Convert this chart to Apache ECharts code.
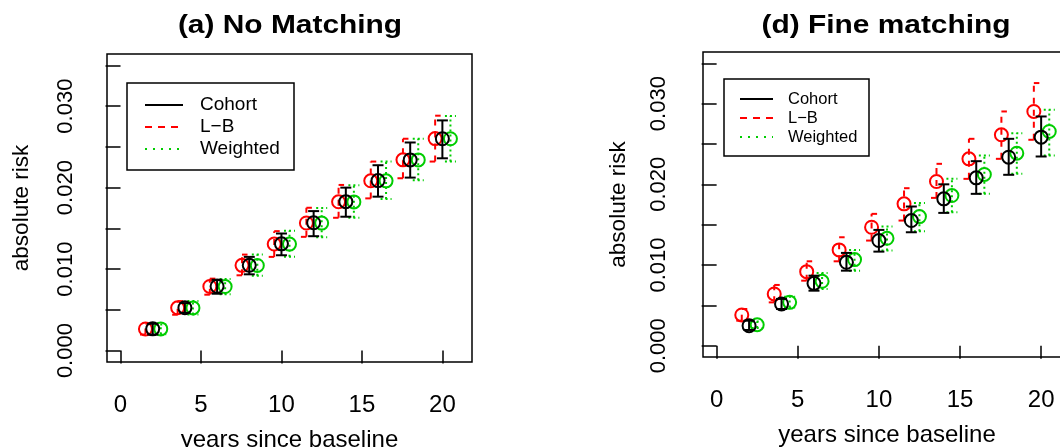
<!DOCTYPE html>
<html><head><meta charset="utf-8">
<script src="https://cdn.jsdelivr.net/npm/echarts@6/dist/echarts.min.js"></script>
<style>html,body{margin:0;padding:0;background:#fff}#c{width:1060px;height:447px}</style>
</head><body><div id="c"></div>
<script>
// ---------- data ----------
const years = [2, 4, 6, 8, 10, 12, 14, 16, 18, 20];
const xTicks = [0, 5, 10, 15, 20];
const yTicks = [0, 0.005, 0.01, 0.015, 0.02, 0.025, 0.03, 0.035];
const yTickLabels = [0, 0.01, 0.02, 0.03];
const legendNames = ['Cohort', 'L\u2212B', 'Weighted'];
const titles = ['(a) No Matching', '(d) Fine matching'];

// panel (a) No Matching
const aCohort   = [0.00267, 0.00526, 0.00789, 0.01047, 0.0131, 0.01569, 0.01828, 0.02086, 0.0234, 0.026];
const aCohortLo = [0.00197, 0.00464, 0.00698, 0.00936, 0.0117, 0.01404, 0.01643, 0.01889, 0.02123, 0.0236];
const aCohortHi = [0.00329, 0.00583, 0.0087, 0.0115, 0.01437, 0.01712, 0.0200, 0.02275, 0.02554, 0.02825];
const aLB       = [0.00265, 0.00525, 0.00787, 0.01046, 0.01308, 0.01566, 0.01826, 0.02084, 0.02341, 0.02602];
const aLBLo     = [0.00197, 0.0044, 0.00686, 0.00924, 0.0115, 0.01396, 0.0163, 0.01868, 0.02115, 0.0232];
const aLBHi     = [0.0033, 0.00607, 0.00883, 0.01178, 0.01466, 0.01753, 0.02033, 0.0232, 0.026, 0.02883];
const aW        = [0.00266, 0.00524, 0.00786, 0.01045, 0.01307, 0.01565, 0.01825, 0.02083, 0.0234, 0.026];
const aWLo      = [0.002, 0.00442, 0.0069, 0.0092, 0.01152, 0.0139, 0.0163, 0.0186, 0.0209, 0.0232];
const aWHi      = [0.0032, 0.0061, 0.0088, 0.0118, 0.0147, 0.0175, 0.0203, 0.0232, 0.026, 0.0288];

// panel (d) Fine matching
const dCohort   = [0.00248, 0.00517, 0.00773, 0.01034, 0.01303, 0.01551, 0.0182, 0.0208, 0.02336, 0.02585];
const dCohortLo = [0.00195, 0.00455, 0.00682, 0.0093, 0.01166, 0.01406, 0.01646, 0.01882, 0.02118, 0.02345];
const dCohortHi = [0.0031, 0.0058, 0.00868, 0.0115, 0.01435, 0.01725, 0.02, 0.02287, 0.02564, 0.02841];
const dLB       = [0.00381, 0.00641, 0.00918, 0.01187, 0.01468, 0.01758, 0.02035, 0.02316, 0.02614, 0.02903];
const dLBLo     = [0.0031, 0.00537, 0.00806, 0.01046, 0.01303, 0.01551, 0.01832, 0.02068, 0.02316, 0.02552];
const dLBHi     = [0.00455, 0.00753, 0.01046, 0.01344, 0.01634, 0.01952, 0.02254, 0.02564, 0.02903, 0.03255];
const dW        = [0.0026, 0.00537, 0.00798, 0.01067, 0.01331, 0.016, 0.01861, 0.02122, 0.02386, 0.02655];
const dWLo      = [0.0022, 0.00475, 0.00703, 0.0093, 0.01179, 0.01418, 0.01654, 0.01882, 0.0213, 0.02357];
const dWHi      = [0.003, 0.00608, 0.009, 0.01187, 0.01476, 0.0177, 0.02068, 0.02357, 0.02634, 0.02924];

// horizontal dodge of the three estimates around each year
const dodgeLB = -0.45, dodgeW = 0.5;

// ---------- styling ----------
const FONT = 'Liberation Sans, Arial, Helvetica, sans-serif';
const BLACK = '#000000', RED = '#ff0000', GREEN = '#00cd00';

function build(xs, dodge, c, lo, hi) {
  return xs.map((t, i) => [t + dodge, c[i], lo[i], hi[i]]);
}

function makeRender(color, dash, capMode) {
  return function (params, api) {
    const x = api.value(0), c = api.value(1), lo = api.value(2), hi = api.value(3);
    const pc = api.coord([x, c]), pl = api.coord([x, lo]), ph = api.coord([x, hi]);
    const lw = 2, cw = 5.5;
    const st = { stroke: color, lineWidth: lw, lineDash: dash, fill: 'rgba(0,0,0,0)' };
    const solid = { stroke: color, lineWidth: lw, fill: 'rgba(0,0,0,0)' };
    const ch = [{ type: 'line', shape: { x1: pl[0], y1: pl[1], x2: ph[0], y2: ph[1] }, style: st }];
    if (capMode === 'full') {
      ch.push({ type: 'line', shape: { x1: ph[0] - cw, y1: ph[1], x2: ph[0] + cw, y2: ph[1] }, style: solid });
      ch.push({ type: 'line', shape: { x1: pl[0] - cw, y1: pl[1], x2: pl[0] + cw, y2: pl[1] }, style: solid });
    } else if (capMode === 'half') {
      ch.push({ type: 'line', shape: { x1: ph[0], y1: ph[1], x2: ph[0] + cw, y2: ph[1] }, style: solid });
      ch.push({ type: 'line', shape: { x1: pl[0] - cw, y1: pl[1], x2: pl[0], y2: pl[1] }, style: solid });
    } else {
      ch.push({ type: 'line', shape: { x1: ph[0] - cw, y1: ph[1], x2: ph[0] + cw, y2: ph[1] }, style: st });
      ch.push({ type: 'line', shape: { x1: pl[0] - cw, y1: pl[1], x2: pl[0] + cw, y2: pl[1] }, style: st });
    }
    ch.push({ type: 'circle', shape: { cx: pc[0], cy: pc[1], r: 6.5 }, style: { stroke: color, lineWidth: lw, fill: 'rgba(0,0,0,0)' } });
    return { type: 'group', children: ch };
  };
}

function seriesFor(idx, data, color, dash, cap) {
  return {
    type: 'custom', xAxisIndex: idx, yAxisIndex: idx, clip: false,
    renderItem: makeRender(color, dash, cap), data: data, silent: true,
    encode: { x: 0, y: [1, 2, 3] }
  };
}

const grids = [
  { left: 107, top: 54, width: 365, height: 308 },
  { left: 703, top: 52, width: 368, height: 305 }
];

function xAxisFor(i) {
  return {
    type: 'value', gridIndex: i, min: -0.84, max: 21.84,
    axisLine: { show: false }, splitLine: { show: false },
    axisTick: { show: true, customValues: xTicks, length: 13, lineStyle: { color: BLACK, width: 1.5 } },
    axisLabel: { customValues: xTicks, fontSize: 24, color: BLACK, fontFamily: FONT, margin: 31 },
    name: 'years since baseline', nameLocation: 'middle', nameGap: 66,
    nameTextStyle: { fontSize: 24, color: BLACK, fontFamily: FONT }
  };
}
function yAxisFor(i, labelMargin, nameGap) {
  return {
    type: 'value', gridIndex: i, min: -0.0014, max: 0.0364,
    axisLine: { show: false }, splitLine: { show: false },
    axisTick: { show: true, customValues: yTicks, length: 15, lineStyle: { color: BLACK, width: 1.5 } },
    axisLabel: { customValues: yTickLabels, rotate: 90, fontSize: 22, color: BLACK, fontFamily: FONT,
      margin: labelMargin, formatter: v => Number(v).toFixed(3) },
    name: 'absolute risk', nameLocation: 'middle', nameGap: nameGap,
    nameTextStyle: { fontSize: 22.5, color: BLACK, fontFamily: FONT }
  };
}

function legendGraphic(box, x1, x2, xt, ys, fs) {
  const els = [{ type: 'rect', shape: box, style: { fill: '#fff', stroke: BLACK, lineWidth: 1.5 }, z: 10 }];
  const styles = [
    { stroke: BLACK, lineWidth: 2 },
    { stroke: RED, lineWidth: 2, lineDash: [7, 6] },
    { stroke: GREEN, lineWidth: 2, lineDash: [2, 6] }
  ];
  legendNames.forEach((n, k) => {
    els.push({ type: 'line', shape: { x1: x1, y1: ys[k], x2: x2, y2: ys[k] }, style: styles[k], z: 11 });
    els.push({ type: 'text', x: xt, y: ys[k], z: 11,
      style: { text: n, font: fs + 'px ' + FONT, fill: BLACK, textAlign: 'left', textVerticalAlign: 'middle' } });
  });
  return els;
}

const graphics = [
  { type: 'text', x: 290, y: 26, scaleX: 1.15,
    style: { text: titles[0], font: 'bold 26px ' + FONT, fill: BLACK, textAlign: 'center', textVerticalAlign: 'middle' } },
  { type: 'text', x: 886, y: 26, scaleX: 1.15,
    style: { text: titles[1], font: 'bold 26px ' + FONT, fill: BLACK, textAlign: 'center', textVerticalAlign: 'middle' } }
].concat(
  legendGraphic({ x: 127, y: 83, width: 167, height: 87 }, 145, 183, 200, [105, 127, 149], 19),
  legendGraphic({ x: 724, y: 79, width: 145, height: 77 }, 740, 773, 788, [99, 118, 137], 16.5)
);

const chart = echarts.init(document.getElementById('c'), null, { renderer: 'canvas' });
chart.setOption({
  animation: false,
  backgroundColor: '#ffffff',
  grid: grids.map(g => Object.assign({ show: true, borderColor: BLACK, borderWidth: 1.5, backgroundColor: 'rgba(0,0,0,0)',
    containLabel: false, outerBoundsMode: 'none' }, g)),
  xAxis: [xAxisFor(0), xAxisFor(1)],
  yAxis: [yAxisFor(0, 30, 74), yAxisFor(1, 33, 73)],
  graphic: graphics,
  series: [
    seriesFor(0, build(years, dodgeLB, aLB, aLBLo, aLBHi), RED, [6, 6], 'half'),
    seriesFor(0, build(years, dodgeW, aW, aWLo, aWHi), GREEN, [2, 3], 'dotted'),
    seriesFor(0, build(years, 0, aCohort, aCohortLo, aCohortHi), BLACK, null, 'full'),
    seriesFor(1, build(years, dodgeLB, dLB, dLBLo, dLBHi), RED, [6, 6], 'half'),
    seriesFor(1, build(years, dodgeW, dW, dWLo, dWHi), GREEN, [2, 3], 'dotted'),
    seriesFor(1, build(years, 0, dCohort, dCohortLo, dCohortHi), BLACK, null, 'full')
  ]
});
</script>
</body></html>
